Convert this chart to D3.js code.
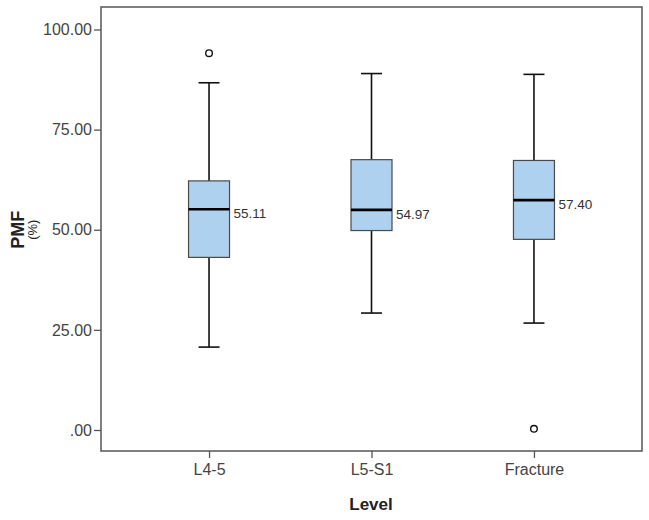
<!DOCTYPE html>
<html lang="en">
<head>
  <meta charset="UTF-8">
  <title>PMF by Level</title>
  <style>
    body { margin: 0; background: #fff; }
    svg text { font-family: "Liberation Sans", Arial, sans-serif; }
  </style>
</head>
<body>
  <div id="chart"></div>
  <script src="https://d3js.org/d3.v7.min.js"></script>
  <script>
    const w = 649;
    const h = 520;

    // data
    const levels = ["L4-5", "L5-S1", "Fracture"];
    const lowerWhisker = [20.7, 29.2, 26.7];
    const q1 = [43.1, 49.8, 47.6];
    const medians = [55.11, 54.97, 57.40];
    const q3 = [62.2, 67.5, 67.3];
    const upperWhisker = [86.7, 89.0, 88.8];
    const outliers = [
      { level: "L4-5", value: 94.1 },
      { level: "Fracture", value: 0.3 }
    ];
    const yTicks = [0, 25, 50, 75, 100];

    const boxes = levels.map((l, i) => ({
      level: l, lo: lowerWhisker[i], q1: q1[i], med: medians[i], q3: q3[i], hi: upperWhisker[i]
    }));

    const frame = { left: 101, right: 642, top: 7, bottom: 451 };

    const svg = d3.select("#chart").append("svg")
      .attr("width", w)
      .attr("height", h);

    const xScale = d3.scalePoint()
      .domain(levels)
      .range([frame.left, frame.right])
      .padding(0.665);

    const yScale = d3.scaleLinear()
      .domain([0, 100])
      .range([430, 29.5]);

    const boxW = 41;
    const capW = 21;

    // frame
    svg.append("rect")
      .attr("x", frame.left)
      .attr("y", frame.top)
      .attr("width", frame.right - frame.left)
      .attr("height", frame.bottom - frame.top)
      .attr("fill", "none")
      .attr("stroke", "#555")
      .attr("stroke-width", 1.5);

    // y axis
    const yAxis = d3.axisLeft(yScale)
      .tickValues(yTicks)
      .tickSize(7)
      .tickPadding(2)
      .tickFormat(d => d === 0 ? ".00" : d3.format(".2f")(d));
    const yg = svg.append("g")
      .attr("transform", "translate(" + frame.left + ",0)")
      .call(yAxis);
    yg.select(".domain").remove();
    yg.selectAll(".tick line").attr("stroke", "#555").attr("stroke-width", 1.3);
    yg.selectAll(".tick text").attr("font-size", 16).attr("fill", "#444");

    // x axis
    const xAxis = d3.axisBottom(xScale)
      .tickSize(7)
      .tickPadding(6);
    const xg = svg.append("g")
      .attr("transform", "translate(0," + frame.bottom + ")")
      .call(xAxis);
    xg.select(".domain").remove();
    xg.selectAll(".tick line").attr("stroke", "#555").attr("stroke-width", 1.3);
    xg.selectAll(".tick text").attr("font-size", 16).attr("fill", "#444");

    // axis titles
    svg.append("text")
      .attr("text-anchor", "middle")
      .attr("x", 371)
      .attr("y", 510)
      .attr("font-size", 17)
      .attr("font-weight", "bold")
      .attr("fill", "#222")
      .text("Level");

    svg.append("text")
      .attr("transform", "translate(24," + yScale(50) + ") rotate(-90)")
      .attr("text-anchor", "middle")
      .attr("font-size", 18)
      .attr("font-weight", "bold")
      .attr("fill", "#222")
      .text("PMF");
    svg.append("text")
      .attr("transform", "translate(37," + yScale(50) + ") rotate(-90)")
      .attr("text-anchor", "middle")
      .attr("font-size", 13)
      .attr("fill", "#222")
      .text("(%)");

    // boxes
    const g = svg.selectAll("g.box")
      .data(boxes)
      .enter()
      .append("g")
      .attr("class", "box");

    // whiskers
    g.append("line")
      .attr("x1", d => xScale(d.level))
      .attr("x2", d => xScale(d.level))
      .attr("y1", d => yScale(d.hi))
      .attr("y2", d => yScale(d.q3))
      .attr("stroke", "#111")
      .attr("stroke-width", 1.6);
    g.append("line")
      .attr("x1", d => xScale(d.level))
      .attr("x2", d => xScale(d.level))
      .attr("y1", d => yScale(d.q1))
      .attr("y2", d => yScale(d.lo))
      .attr("stroke", "#111")
      .attr("stroke-width", 1.6);
    // caps
    g.append("line")
      .attr("x1", d => xScale(d.level) - capW / 2)
      .attr("x2", d => xScale(d.level) + capW / 2)
      .attr("y1", d => yScale(d.hi))
      .attr("y2", d => yScale(d.hi))
      .attr("stroke", "#111")
      .attr("stroke-width", 1.6);
    g.append("line")
      .attr("x1", d => xScale(d.level) - capW / 2)
      .attr("x2", d => xScale(d.level) + capW / 2)
      .attr("y1", d => yScale(d.lo))
      .attr("y2", d => yScale(d.lo))
      .attr("stroke", "#111")
      .attr("stroke-width", 1.6);

    g.append("rect")
      .attr("x", d => xScale(d.level) - boxW / 2)
      .attr("y", d => yScale(d.q3))
      .attr("width", boxW)
      .attr("height", d => yScale(d.q1) - yScale(d.q3))
      .attr("fill", "#aed1ef")
      .attr("stroke", "#4a4a4a")
      .attr("stroke-width", 1.2);

    g.append("line")
      .attr("x1", d => xScale(d.level) - boxW / 2)
      .attr("x2", d => xScale(d.level) + boxW / 2)
      .attr("y1", d => yScale(d.med))
      .attr("y2", d => yScale(d.med))
      .attr("stroke", "#000")
      .attr("stroke-width", 2.6);

    g.append("text")
      .attr("x", d => xScale(d.level) + boxW / 2 + 4)
      .attr("y", d => yScale(d.med) + 9)
      .attr("font-size", 13.5)
      .attr("fill", "#333")
      .text(d => d3.format(".2f")(d.med));

    // outliers
    svg.selectAll("circle.outlier")
      .data(outliers)
      .enter()
      .append("circle")
      .attr("class", "outlier")
      .attr("cx", d => xScale(d.level))
      .attr("cy", d => yScale(d.value))
      .attr("r", 3.3)
      .attr("fill", "#fff")
      .attr("stroke", "#111")
      .attr("stroke-width", 1.4);
  </script>
</body>
</html>
